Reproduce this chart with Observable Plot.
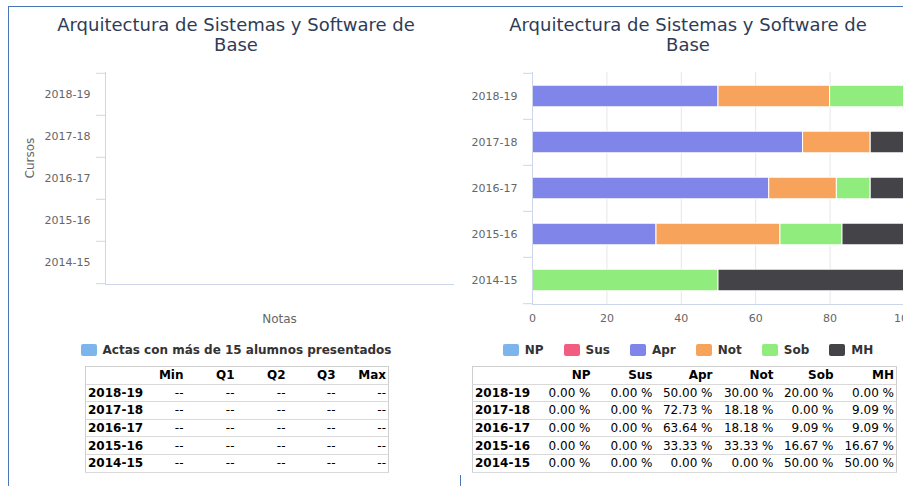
<!DOCTYPE html>
<html><head><meta charset="utf-8">
<script src="https://cdn.jsdelivr.net/npm/d3@7"></script>
<script src="https://cdn.jsdelivr.net/npm/@observablehq/plot@0.6"></script>
<style>
html,body{margin:0;padding:0;width:903px;height:486px;overflow:hidden;background:#fff;font-family:"DejaVu Sans",sans-serif;}
.frame{position:absolute;left:8px;top:6px;width:1000px;height:600px;border-left:1px solid #4a78b4;border-top:1px solid #4a78b4;box-sizing:border-box;}
.frame2{position:absolute;left:460px;top:475px;width:10px;height:20px;border-left:1px solid #4a78b4;}
.panel{position:absolute;top:0;height:486px;}
.title{position:absolute;top:15px;left:0;width:100%;text-align:center;font-size:18px;line-height:20px;color:#2f3c57;}
.chart{position:absolute;top:55px;left:0;}
.legend{position:absolute;top:340px;left:0;width:100%;height:20px;display:flex;justify-content:center;align-items:center;gap:20px;font-size:12px;font-weight:bold;color:#333;}
.item{display:flex;align-items:center;}
.sw{width:16px;height:12px;border-radius:2px;margin-right:6px;}
table{position:absolute;top:366px;border-collapse:collapse;border:1px solid #cfcfcf;font-size:12px;color:#000;table-layout:fixed;}
td,th{height:16.6px;padding:0 2px;line-height:16px;border-bottom:1px solid #d9d9d9;text-align:right;white-space:nowrap;overflow:hidden;}
th{font-weight:bold;}
td.lab{text-align:left;font-weight:bold;}
</style></head>
<body>
<div class="frame"></div>
<div class="frame2"></div>
<div class="panel" id="left" style="left:10px;width:452px;">
  <div class="title">Arquitectura de Sistemas y Software de<br>Base</div>
  <div class="chart" id="c1"></div>
  <div class="legend" id="l1"></div>
</div>
<div class="panel" id="right" style="left:460px;width:456px;">
  <div class="title">Arquitectura de Sistemas y Software de<br>Base</div>
  <div class="chart" id="c2"></div>
  <div class="legend" id="l2"></div>
</div>
<script>
// ---- data ----
const cursos = ["2018-19", "2017-18", "2016-17", "2015-16", "2014-15"];
const notas = ["NP", "Sus", "Apr", "Not", "Sob", "MH"];
const colores = ["#7cb5ec", "#f15c80", "#8085e9", "#f7a35c", "#90ed7d", "#434348"];
const NP  = [0, 0, 0, 0, 0];
const Sus = [0, 0, 0, 0, 0];
const Apr = [50.00, 72.73, 63.64, 33.33, 0.00];
const Not = [30.00, 18.18, 18.18, 33.33, 0.00];
const Sob = [20.00, 0.00, 9.09, 16.67, 50.00];
const MH  = [0.00, 9.09, 9.09, 16.67, 50.00];
const xTicks = [0, 20, 40, 60, 80, 100];
const boxCols = ["Min", "Q1", "Q2", "Q3", "Max"];
const boxSerie = "Actas con más de 15 alumnos presentados";
const boxColor = "#7cb5ec";
const boxValues = cursos.map(() => [null, null, null, null, null]);

const series = [NP, Sus, Apr, Not, Sob, MH];
const rows = [];
cursos.forEach((c, i) => notas.forEach((n, j) => rows.push({curso: c, nota: n, pct: series[j][i]})));

const axisColor = "#ccd6eb";
const font = {fontFamily: "DejaVu Sans, sans-serif", fontSize: "11px", color: "#666666", background: "transparent", overflow: "visible"};

// ---- left chart (empty boxplot) ----
{
  const h = 280, mt = 17, mb = 51;
  const step = (h - mt - mb) / cursos.length;
  const p = Plot.plot({
    width: 452, height: h, marginTop: mt, marginBottom: mb, marginLeft: 95, marginRight: 9,
    style: font,
    x: {domain: [0, 1], axis: null},
    y: {type: "band", domain: cursos, padding: 0, axis: null},
    marks: [
      Plot.axisY({tickSize: 0, tickPadding: 15, label: null, fill: "#666666"}),
      Plot.axisY({text: null, tickSize: 9, dy: -step / 2, stroke: axisColor, label: null}),
      Plot.axisY([cursos[cursos.length - 1]], {text: null, tickSize: 9, dy: step / 2, stroke: axisColor, label: null}),
      Plot.frame({anchor: "left", stroke: axisColor}),
      Plot.frame({anchor: "bottom", stroke: axisColor}),
      Plot.text(["Notas"], {text: d => d, frameAnchor: "bottom", dy: 38, fontSize: 12, fill: "#666666"}),
      Plot.text(["Cursos"], {text: d => d, frameAnchor: "left", dx: -75, rotate: -90, fontSize: 12, fill: "#666666"})
    ]
  });
  document.getElementById("c1").appendChild(p);

  const lg = d3.select("#l1");
  const it = lg.append("div").attr("class", "item");
  it.append("div").attr("class", "sw").style("background", boxColor);
  it.append("span").text(boxSerie);

  const t = d3.select("#left").append("table").style("left", "75px").style("width", "303px");
  const widths = [60, 40, 51, 51, 50, 51];
  const cg = t.append("colgroup");
  widths.forEach(w => cg.append("col").style("width", w + "px"));
  const hr = t.append("tr");
  hr.append("th").text("");
  boxCols.forEach(c => hr.append("th").text(c));
  cursos.forEach((c, i) => {
    const tr = t.append("tr");
    tr.append("td").attr("class", "lab").text(c);
    boxValues[i].forEach(v => tr.append("td").text(v == null ? "--" : v));
  });
}

// ---- right chart (stacked bars) ----
{
  const h = 280, mt = 17, mb = 31;
  const step = (h - mt - mb) / cursos.length;
  const inset = (step - 22) / 2;
  const p = Plot.plot({
    width: 456, height: h, marginTop: mt, marginBottom: mb, marginLeft: 72, marginRight: 12,
    style: font,
    x: {domain: [0, 100], axis: null},
    y: {type: "band", domain: cursos, padding: 0, axis: null},
    color: {domain: notas, range: colores},
    marks: [
      Plot.gridX({ticks: xTicks, stroke: "#e6e6e6", strokeOpacity: 1}),
      Plot.barX(rows.filter(d => d.pct > 0), Plot.stackX({y: "curso", x: "pct", fill: "nota", order: null, insetTop: inset, insetBottom: inset, stroke: "#ffffff", strokeWidth: 1})),
      Plot.axisX({ticks: xTicks, tickSize: 0, tickPadding: 10, fill: "#666666", label: null}),
      Plot.axisY({tickSize: 0, tickPadding: 15, label: null, fill: "#666666"}),
      Plot.axisY({text: null, tickSize: 9, dy: -step / 2, stroke: axisColor, label: null}),
      Plot.axisY([cursos[cursos.length - 1]], {text: null, tickSize: 9, dy: step / 2, stroke: axisColor, label: null}),
      Plot.frame({anchor: "left", stroke: axisColor}),
      Plot.frame({anchor: "bottom", stroke: axisColor})
    ]
  });
  document.getElementById("c2").appendChild(p);

  const lg = d3.select("#l2");
  notas.forEach((n, j) => {
    const it = lg.append("div").attr("class", "item");
    it.append("div").attr("class", "sw").style("background", colores[j]);
    it.append("span").text(n);
  });

  const t = d3.select("#right").append("table").style("left", "12px").style("width", "424px");
  const widths = [62, 58, 62, 60, 61, 60, 61];
  const cg = t.append("colgroup");
  widths.forEach(w => cg.append("col").style("width", w + "px"));
  const hr = t.append("tr");
  hr.append("th").text("");
  notas.forEach(c => hr.append("th").text(c));
  cursos.forEach((c, i) => {
    const tr = t.append("tr");
    tr.append("td").attr("class", "lab").text(c);
    series.forEach(s => tr.append("td").text(s[i].toFixed(2) + " %"));
  });
}
</script>
</body></html>
